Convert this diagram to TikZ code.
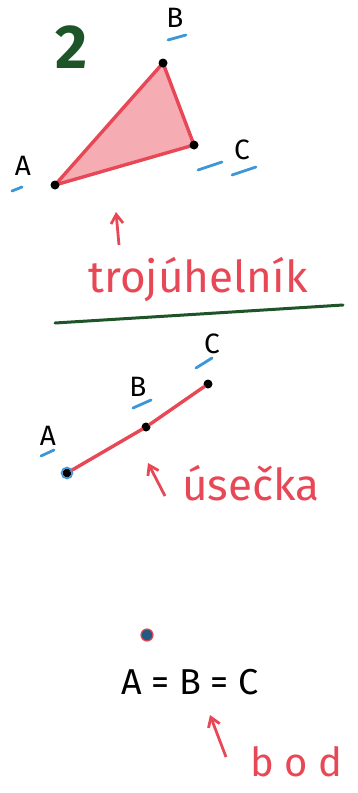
\documentclass[tikz,border=0pt]{standalone}
\usepackage{fontspec}
\setsansfont{Fira Sans}
\usepackage{tikz}
\usetikzlibrary{positioning,arrows.meta}
\definecolor{penred}{RGB}{232,72,86}
\definecolor{penblue}{RGB}{60,150,215}
\definecolor{pengreen}{RGB}{30,85,40}
\tikzset{
  pt/.style ={circle, fill=black, inner sep=0pt, minimum size=9pt},
  lbl/.style ={font=\sffamily\fontsize{28}{30}\selectfont, inner sep=1pt},
  redtext/.style ={text=penred, font=\sffamily\fontsize{44}{46}\selectfont, inner sep=0pt},
  uline/.style ={draw=penblue, line width=2.8pt, line cap=round},
  redline/.style ={draw=penred, line width=3.4pt, line cap=round, line join=round},
  pointer/.style ={-{Straight Barb[length=9pt,width=12pt]}, draw=penred, line width=2.8pt},
}
\begin{document}
\begin{tikzpicture}[x=1pt,y=-1pt]
\useasboundingbox (0,0) rectangle (357,793);
% triangle
\node[font=\sffamily\bfseries\fontsize{62}{62}\selectfont, text=pengreen] (two) at (72,47) {2};
\coordinate (tA) at (55,185);
\coordinate (tB) at (163,63);
\coordinate (tC) at (194,145);
\fill[penred!45] (tA) -- (tB) -- (tC) -- cycle;
\draw[redline] (tA) -- (tB) -- (tC) -- cycle;
\node[pt] at (tA) {};
\node[pt] at (tB) {};
\node[pt] at (tC) {};
\node[lbl] (tlA) at (23,166) {A};
\node[lbl] (tlB) at (175,18) {B};
\node[lbl] (tlC) at (242,150) {C};
\draw[uline] (12,191) -- (22,187);
\draw[uline] (168,40) -- (186,35);
\draw[uline] (198,170) -- (222,162);
\draw[uline] (232,175) -- (256,167);
\coordinate (triArrS) at (119,245);
\coordinate (triArrE) at (116,212);
\draw[pointer] (triArrS) -- (triArrE);
\node[redtext, anchor=base] (triName) at (198,292) {trojúhelník};
\draw[draw=pengreen, line width=3pt, line cap=round] (55,323) -- (200,314) -- (343,305);
% segment
\node[pt] (sA) at (67,473) {};
\node[pt] (sB) at (146,427) {};
\node[pt] (sC) at (208,384) {};
\draw[redline] (sA) -- (sB) -- (sC);
\draw[penblue, line width=1.6pt] (sA) circle (5.5pt);
\node[lbl] (slA) at (48,436) {A};
\node[lbl] (slB) at (138,387) {B};
\node[lbl] (slC) at (212,344) {C};
\draw[uline] (41,456) -- (54,450);
\draw[uline] (133,408) -- (151,400);
\draw[uline] (196,368) -- (212,358);
\coordinate (segArrS) at (165,496);
\coordinate (segArrE) at (148,463);
\draw[pointer] (segArrS) -- (segArrE);
\node[redtext, anchor=base west] (segName) at (182,500) {úsečka};
% point
\node[circle, fill=penblue!60!black, draw=penred, line width=1.2pt, inner sep=0pt, minimum size=12pt] (pP) at (147,635) {};
\node[font=\sffamily\fontsize{36}{38}\selectfont, anchor=west] (pEq) at (118,682) {A = B = C};
\coordinate (ptArrS) at (226,757);
\coordinate (ptArrE) at (210,715);
\draw[pointer] (ptArrS) -- (ptArrE);
\node[redtext, anchor=base west, font=\sffamily\fontsize{40}{42}\selectfont] (ptName) at (250,776) {b o d};
\end{tikzpicture}
\end{document}
